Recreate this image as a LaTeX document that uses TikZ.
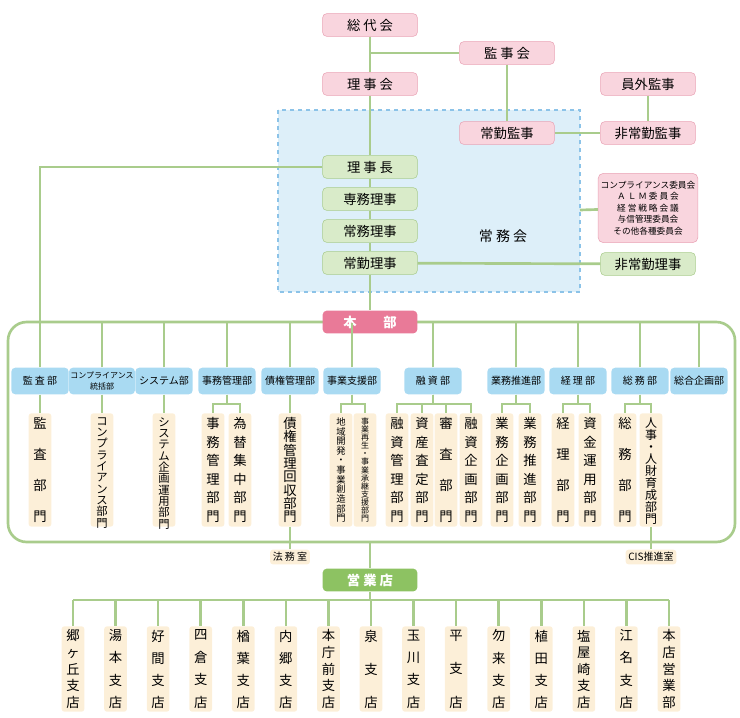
\documentclass[tikz,border=0pt]{standalone}
\usepackage{fontspec}
\setmainfont{Noto Sans CJK JP}
\definecolor{pinkfill}{HTML}{F9D5DE}
\definecolor{pinkline}{HTML}{E9A3B5}
\definecolor{pinkdark}{HTML}{E97A98}
\definecolor{greenfill}{HTML}{D9EBC9}
\definecolor{greenline}{HTML}{A9CC8C}
\definecolor{greendark}{HTML}{8DC262}
\definecolor{bluefill}{HTML}{A9DAF2}
\definecolor{boxblue}{HTML}{DDEFF9}
\definecolor{dashblue}{HTML}{8CC3E8}
\definecolor{creamfill}{HTML}{FCEFD8}
\newcommand\vt[3]{\parbox[c][#1][s]{1.2em}{\centering\fontsize{#2}{#2}\selectfont #3}}
\tikzset{
  pinkbox/.style={fill=pinkfill, draw=pinkline, rounded corners=3pt, minimum width=71pt, minimum height=17pt, font=\fontsize{10}{12}\selectfont},
  greenbox/.style={fill=greenfill, draw=greenline, rounded corners=3pt, minimum width=71pt, minimum height=17pt, font=\fontsize{10}{12}\selectfont},
  headbox/.style={rounded corners=3pt, minimum width=71pt, minimum height=17pt, text=white, font=\bfseries\fontsize{10}{12}\selectfont},
  deptbox/.style={fill=bluefill, rounded corners=3pt, minimum width=43pt, minimum height=20pt, inner sep=1pt, font=\fontsize{7.5}{8}\selectfont},
  secbox/.style={fill=creamfill, rounded corners=2pt, inner sep=1pt, minimum width=17pt, minimum height=85pt},
  smallbox/.style={fill=creamfill, rounded corners=2pt, inner sep=2pt, font=\fontsize{7.5}{9}\selectfont},
  link/.style={draw=greenline, line width=2pt}
}
\begin{document}
\begin{tikzpicture}[x=0.75pt,y=-0.75pt]
\useasboundingbox (0,0) rectangle (740,718);

% governance
\node[pinkbox] (sodai) at (370,25) {総 代 会};
\node[pinkbox] (kanjikai) at (507,53) {監 事 会};
\node[pinkbox] (rijikai) at (370,84) {理 事 会};
\node[pinkbox] (ingai) at (648,84) {員外監事};
\fill[boxblue] (278,110) rectangle (580,292);
\draw[dashblue, line width=1.5pt, dashed] (278,110) rectangle (580,292);
\coordinate (boxr) at (580,210);
\node[pinkbox] (jokin) at (507,133) {常勤監事};
\node[pinkbox] (hijokin) at (648,133) {非常勤監事};
\node[greenbox] (rijicho) at (370,167) {理 事 長};
\node[greenbox] (senmu) at (370,199) {専務理事};
\node[greenbox] (jomu) at (370,231) {常務理事};
\node[greenbox] (jokinriji) at (370,263) {常勤理事};
\node[font=\fontsize{10.5}{12}\selectfont] (jomukai) at (503,236) {常 務 会};
\node[fill=pinkfill, draw=pinkline, rounded corners=4pt, minimum width=73pt, minimum height=52pt, inner sep=2pt, align=center, font=\fontsize{6.5}{8.6}\selectfont] (iinkai) at (648,208)
  {コンプライアンス委員会\\Ａ Ｌ Ｍ 委 員 会\\経 営 戦 略 会 議\\与信管理委員会\\その他各種委員会};
\node[greenbox] (hijokinriji) at (648,264) {非常勤理事};

% head office frame
\draw[greenline, line width=2pt, rounded corners=14pt] (8,322) rectangle (735,542);
\coordinate (framebot) at (370,542);
\node[headbox, fill=pinkdark] (honbu) at (370,322) {本\hspace{2em}部};

% departments
\foreach \n/\x/\t in {d1/40/監 査 部, d2/102/{\fontsize{6}{6.5}\selectfont\shortstack{コンプライアンス\\統括部}}, d3/164/システム部, d4/227/事務管理部, d5/290/債権管理部, d6/352/事業支援部, d7/433/融 資 部, d8/516/業務推進部, d9/578/経 理 部, d10/640/総 務 部, d11/699/総合企画部}
  \node[deptbox] (\n) at (\x,381) {\t};

% sections
\node[secbox] (s1) at (40,470) {\vt{78pt}{10}{監\vfill 査\vfill 部\vfill 門}};
\node[secbox] (s2) at (102,470) {\vt{78pt}{8.5}{コ\vfill ン\vfill プ\vfill ラ\vfill イ\vfill ア\vfill ン\vfill ス\vfill 部\vfill 門}};
\node[secbox] (s3) at (164,470) {\vt{78pt}{8.5}{シ\vfill ス\vfill テ\vfill ム\vfill 企\vfill 画\vfill 運\vfill 用\vfill 部\vfill 門}};
\node[secbox] (s4) at (213,470) {\vt{78pt}{10}{事\vfill 務\vfill 管\vfill 理\vfill 部\vfill 門}};
\node[secbox] (s5) at (240,470) {\vt{78pt}{10}{為\vfill 替\vfill 集\vfill 中\vfill 部\vfill 門}};
\node[secbox] (s6) at (290,470) {\vt{78pt}{10}{債\vfill 権\vfill 管\vfill 理\vfill 回\vfill 収\vfill 部\vfill 門}};
\node[secbox] (s7) at (341,470) {\vt{78pt}{7}{地\vfill 域\vfill 開\vfill 発\vfill ・\vfill 事\vfill 業\vfill 創\vfill 造\vfill 部\vfill 門}};
\node[secbox] (s8) at (365,470) {\vt{78pt}{6}{事\vfill 業\vfill 再\vfill 生\vfill ・\vfill 事\vfill 業\vfill 承\vfill 継\vfill 支\vfill 援\vfill 部\vfill 門}};
\node[secbox] (s9) at (397,470) {\vt{78pt}{10}{融\vfill 資\vfill 管\vfill 理\vfill 部\vfill 門}};
\node[secbox] (s10) at (422,470) {\vt{78pt}{10}{資\vfill 産\vfill 査\vfill 定\vfill 部\vfill 門}};
\node[secbox] (s11) at (446,470) {\vt{78pt}{10}{審\vfill 査\vfill 部\vfill 門}};
\node[secbox] (s12) at (471,470) {\vt{78pt}{10}{融\vfill 資\vfill 企\vfill 画\vfill 部\vfill 門}};
\node[secbox] (s13) at (502,470) {\vt{78pt}{10}{業\vfill 務\vfill 企\vfill 画\vfill 部\vfill 門}};
\node[secbox] (s14) at (530,470) {\vt{78pt}{10}{業\vfill 務\vfill 推\vfill 進\vfill 部\vfill 門}};
\node[secbox] (s15) at (563,470) {\vt{78pt}{10}{経\vfill 理\vfill 部\vfill 門}};
\node[secbox] (s16) at (590,470) {\vt{78pt}{10}{資\vfill 金\vfill 運\vfill 用\vfill 部\vfill 門}};
\node[secbox] (s17) at (625,470) {\vt{78pt}{10}{総\vfill 務\vfill 部\vfill 門}};
\node[secbox] (s18) at (651,470) {\vt{78pt}{9}{人\vfill 事\vfill ・\vfill 人\vfill 財\vfill 育\vfill 成\vfill 部\vfill 門}};

\node[smallbox] (homu) at (290,557) {法 務 室};
\node[smallbox] (cis) at (651,557) {CIS推進室};

% branches
\node[headbox, fill=greendark] (eigyo) at (370,580) {営 業 店};
\foreach \i/\t in {0/郷\vfill ヶ\vfill 丘\vfill 支\vfill 店, 1/湯\vfill 本\vfill 支\vfill 店, 2/好\vfill 間\vfill 支\vfill 店, 3/四\vfill 倉\vfill 支\vfill 店, 4/楢\vfill 葉\vfill 支\vfill 店, 5/内\vfill 郷\vfill 支\vfill 店, 6/本\vfill 庁\vfill 前\vfill 支\vfill 店, 7/泉\vfill 支\vfill 店, 8/玉\vfill 川\vfill 支\vfill 店, 9/平\vfill 支\vfill 店, 10/勿\vfill 来\vfill 支\vfill 店, 11/植\vfill 田\vfill 支\vfill 店, 12/塩\vfill 屋\vfill 崎\vfill 支\vfill 店, 13/江\vfill 名\vfill 支\vfill 店, 14/本\vfill 店\vfill 営\vfill 業\vfill 部}
  \node[secbox, minimum height=64pt] (b\i) at ({73+42.57*\i},669) {\vt{58pt}{10}{\t}};

% connectors
\draw[link] (sodai) -- (rijikai) -- (rijicho) -- (senmu) -- (jomu) -- (jokinriji) -- (honbu);
\draw[link] (framebot) -- (eigyo);
\draw[link] (370,53) -- (kanjikai);
\draw[link] (kanjikai) -- (jokin);
\draw[link] (jokin) -- (hijokin);
\draw[link] (ingai) -- (hijokin);
\draw[link] (boxr) -- (iinkai);
\draw[link] (jokinriji) -- (hijokinriji);
\draw[link] (rijicho) -| (40,322);
\foreach \n in {d1,d2,d3,d4,d5,d6,d7,d8,d9,d10,d11}
  \draw[link] (\n.north) -- (\n.north |- 0,323);
\foreach \d/\s in {d1/s1, d2/s2, d3/s3, d4/s4, d4/s5, d5/s6, d6/s7, d6/s8, d7/s9, d7/s10, d7/s11, d7/s12, d8/s13, d8/s14, d9/s15, d9/s16, d10/s17, d10/s18}
  \draw[link, rounded corners=0pt] (\d.south) -- (\d.south |- 0,404) -| (\s.north);
\draw[link] (s6) -- (homu);
\draw[link] (s18) -- (cis);
\draw[link] (eigyo) -- (370,600);
\draw[link] (73,600) -- (669,600);
\foreach \i in {0,...,14}
  \draw[link] (b\i.north |- 0,600) -- (b\i.north);
\end{tikzpicture}
\end{document}
